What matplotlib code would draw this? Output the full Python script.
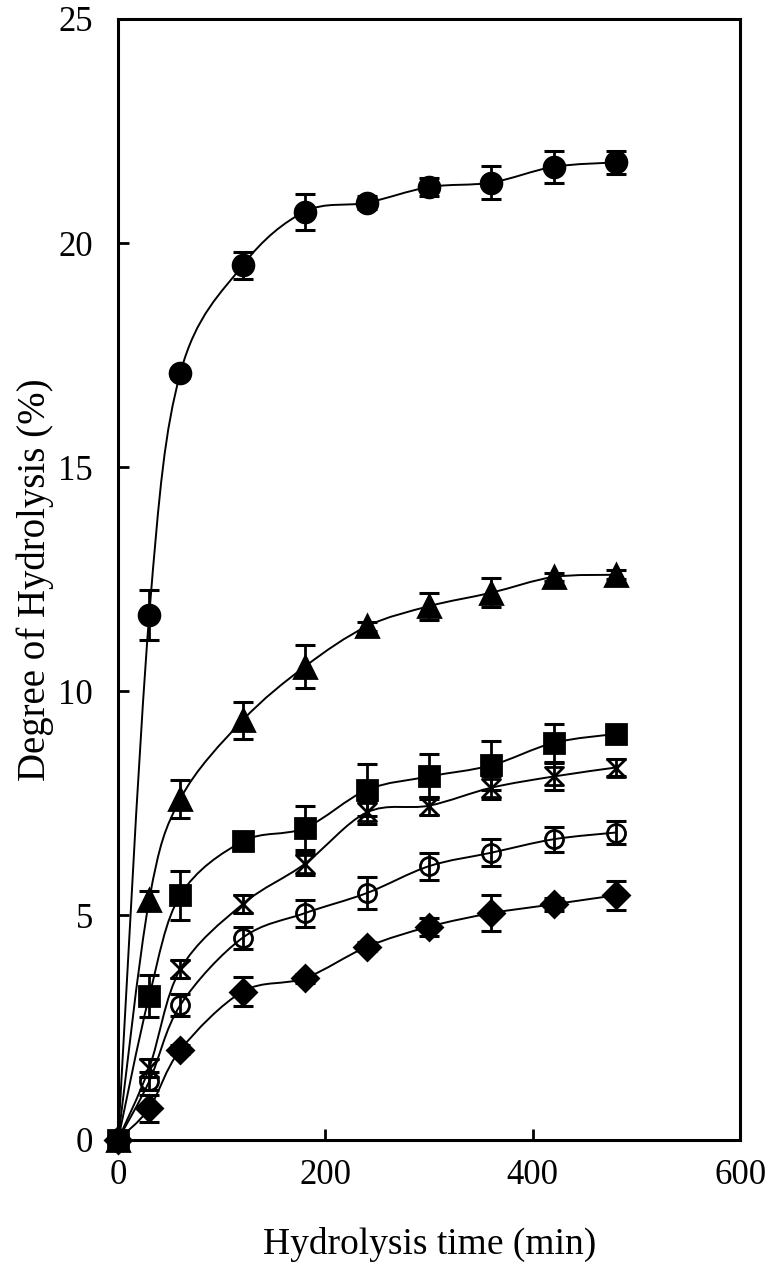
import numpy as np
import matplotlib.pyplot as plt
from matplotlib.path import Path
from matplotlib.patches import PathPatch

plt.rcParams['font.family'] = ['Liberation Serif', 'DejaVu Serif']

# Hydrolysis time (min)
time = [0, 30, 60, 120, 180, 240, 300, 360, 420, 480]

# Degree of hydrolysis (%) and error bars, one pair per series
dh_circle = [0, 11.7, 17.1, 19.5, 20.7, 20.9, 21.25, 21.35, 21.7, 21.8]
err_circle = [0, 0.55, 0.1, 0.3, 0.4, 0.15, 0.2, 0.36, 0.36, 0.25]

dh_triangle = [0, 5.35, 7.6, 9.35, 10.55, 11.45, 11.9, 12.2, 12.55, 12.6]
err_triangle = [0, 0.2, 0.42, 0.42, 0.48, 0.1, 0.3, 0.33, 0.1, 0.1]

dh_square = [0, 3.2, 5.45, 6.65, 6.95, 7.8, 8.1, 8.35, 8.85, 9.05]
err_square = [0, 0.47, 0.55, 0.1, 0.5, 0.58, 0.5, 0.55, 0.43, 0.1]

dh_hourglass = [0, 1.6, 3.8, 5.25, 6.15, 7.3, 7.45, 7.85, 8.1, 8.3]
err_hourglass = [0, 0.2, 0.2, 0.2, 0.25, 0.25, 0.2, 0.25, 0.3, 0.2]

dh_open = [0, 1.3, 3.0, 4.5, 5.05, 5.5, 6.1, 6.4, 6.7, 6.85]
err_open = [0, 0.2, 0.25, 0.25, 0.3, 0.35, 0.3, 0.3, 0.28, 0.25]

dh_diamond = [0, 0.7, 2.0, 3.3, 3.6, 4.3, 4.75, 5.05, 5.25, 5.45]
err_diamond = [0, 0.3, 0.1, 0.32, 0.1, 0.1, 0.2, 0.4, 0.15, 0.32]

hourglass = Path([(-1, 1), (1, 1), (-1, -1), (1, -1), (-1, 1)],
                 [Path.MOVETO, Path.LINETO, Path.LINETO, Path.LINETO, Path.CLOSEPOLY])

# values, errors, marker, face colour, marker size, marker zorder
series = [
    (dh_circle, err_circle, 'o', 'black', 15, 4),
    (dh_triangle, err_triangle, '^', 'black', 16, 4),
    (dh_hourglass, err_hourglass, hourglass, 'none', 13, 4),
    (dh_open, err_open, 'o', 'none', 13, 4),
    (dh_diamond, err_diamond, 'D', 'black', 13, 4),
    (dh_square, err_square, 's', 'black', 15, 5),
]


def smooth_path(x, y):
    # Catmull-Rom style bezier through the points (like a smoothed line)
    x = np.asarray(x, float)
    y = np.asarray(y, float)
    verts = [(x[0], y[0])]
    codes = [Path.MOVETO]
    n = len(x)
    for i in range(n - 1):
        x0, y0 = (x[i - 1], y[i - 1]) if i > 0 else (x[i], y[i])
        x3, y3 = (x[i + 2], y[i + 2]) if i + 2 < n else (x[i + 1], y[i + 1])
        c1 = (x[i] + (x[i + 1] - x0) / 6, y[i] + (y[i + 1] - y0) / 6)
        c2 = (x[i + 1] - (x3 - x[i]) / 6, y[i + 1] - (y3 - y[i]) / 6)
        verts += [c1, c2, (x[i + 1], y[i + 1])]
        codes += [Path.CURVE4] * 3
    return Path(verts, codes)


fig = plt.figure(figsize=(7.67, 12.62), dpi=100)
ax = fig.add_axes([0.154, 0.097, 0.811, 0.888])

for vals, errs, mk, fc, ms, z in series:
    ax.add_patch(PathPatch(smooth_path(time, vals), facecolor='none',
                           edgecolor='black', lw=1.4, zorder=2))
    ax.errorbar(time, vals, yerr=errs, fmt='none', ecolor='black',
                elinewidth=2, capsize=7, capthick=2.2, zorder=3)
    ax.plot(time, vals, linestyle='none', marker=mk, markersize=ms,
            markerfacecolor=fc, markeredgecolor='black', markeredgewidth=2,
            zorder=z, clip_on=False)

ax.set_xlim(0, 600)
ax.set_ylim(0, 25)
ax.set_xticks([0, 200, 400, 600])
ax.set_yticks([0, 5, 10, 15, 20, 25])
ax.tick_params(direction='in', length=8, width=2, labelsize=25)
ax.tick_params(axis='x', pad=14)
ax.tick_params(axis='y', pad=18)
for sp in ax.spines.values():
    sp.set_linewidth(2.2)

ax.set_xlabel('Hydrolysis time (min)', fontsize=27, labelpad=25)
ax.set_ylabel('Degree of Hydrolysis (%)', fontsize=28, labelpad=3)

plt.savefig('out.png', dpi=100)
